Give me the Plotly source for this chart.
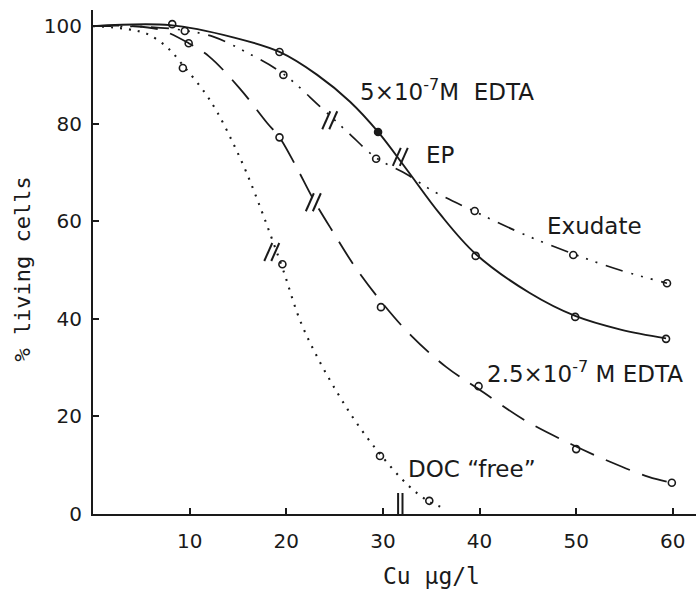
import plotly.graph_objects as go

# ---- fitted response curves (knots along each drawn curve) ----
edta5_curve_x = [0, 8, 14.5, 19.3, 23.2, 26.6, 29.5, 32.5, 35.9, 39.6, 45.2, 49.9, 54.6, 59.3]
edta5_curve_y = [100, 100.2, 97.7, 94.7, 90.0, 84.5, 78.3, 70.5, 61.5, 53.3, 45.3, 40.6, 37.8, 36.0]

exudate_curve_x = [0, 6, 9.5, 12.5, 16, 19.7, 23.5, 26.5, 29.3, 32.5, 35, 39.5, 44.5, 49.7, 54.5, 59.4]
exudate_curve_y = [100, 99.8, 99.1, 97.8, 94.5, 90.2, 83.5, 78, 73, 69.6, 66.4, 62, 57.4, 53.3, 50, 47.3]

edta25_curve_x = [0, 4, 7, 9.9, 12, 15.2, 18, 19.3, 21, 22.8, 24.9, 27, 29.8, 32.9, 36.5, 39.9, 44.7, 49.5, 53.5, 57.5, 59.9]
edta25_curve_y = [100, 100, 99.2, 96.5, 93.8, 87.2, 80.2, 77.2, 71.3, 64.5, 57.6, 51, 43.6, 36.6, 30.2, 25.6, 19.2, 14.3, 10.7, 7.6, 6.4]

doc_curve_x = [0, 3.5, 5.6, 7.7, 9.3, 11.6, 12.9, 14.5, 15.9, 17.3, 18.5, 19.7, 21.4, 23.2, 25.3, 27.3, 29.7, 32.6, 34.8, 36.4]
doc_curve_y = [100, 99.4, 98.4, 95.6, 92, 86.3, 82.2, 76, 69.9, 62.9, 56.5, 49.9, 39.8, 32.2, 24.8, 18.6, 12.3, 5.9, 2.5, 1.2]

# ---- measured points ----
edta5_x = [8.2, 19.3, 29.5, 39.6, 49.9, 59.3]
edta5_y = [100.4, 94.7, 78.3, 52.9, 40.4, 35.9]
edta5_filled = [False, False, True, False, False, False]

exudate_x = [9.5, 19.7, 29.3, 39.5, 49.7, 59.4]
exudate_y = [99.0, 90.0, 72.8, 62.1, 53.1, 47.3]

edta25_x = [9.9, 19.3, 29.8, 39.9, 50.0, 59.9]
edta25_y = [96.5, 77.2, 42.4, 26.2, 13.3, 6.4]

doc_x = [9.3, 19.6, 29.7, 34.8]
doc_y = [91.4, 51.2, 11.9, 2.7]

# ---- curve labels ----
label_text = ["5×10<sup>-7</sup>M  EDTA", "EP", "Exudate", "2.5×10<sup>-7</sup> M EDTA", "DOC “free”"]
label_x = [27.4, 34.3, 46.8, 40.6, 32.4]
label_y = [86.9, 73.6, 59.0, 29.1, 9.2]

# ---- 50 % marks drawn across the curves ----
hash_x = [24.5, 22.8, 18.5, 31.8]
hash_y = [80.7, 63.9, 53.7, 73.2]
# Cu value of the equivalence point, marked on the concentration axis
ep_axis_x = [31.8]

x_ticks = [10, 20, 30, 40, 50, 60]
y_ticks = [0, 20, 40, 60, 80, 100]

INK = "#1a1a1a"
FONT = "DejaVu Sans"
MONO = "DejaVu Sans Mono"

fig = go.Figure()

curve_specs = [
    (edta5_curve_x, edta5_curve_y, "solid", 1.9),
    (exudate_curve_x, exudate_curve_y, "18px,9px,2px,8px,2px,8px,2px,9px", 1.7),
    (edta25_curve_x, edta25_curve_y, "26px,13px", 1.8),
    (doc_curve_x, doc_curve_y, "2px,7px", 2.1),
]
for cx, cy, dash, w in curve_specs:
    fig.add_trace(go.Scatter(
        x=cx, y=cy, mode="lines",
        line=dict(color=INK, width=w, dash=dash, shape="spline", smoothing=1.0),
        hoverinfo="skip", showlegend=False,
    ))


def add_points(px, py, filled=None):
    if filled is None:
        filled = [False] * len(px)
    fig.add_trace(go.Scatter(
        x=px, y=py, mode="markers",
        marker=dict(
            symbol=["circle" if f else "circle-open" for f in filled],
            size=7, color=INK, line=dict(color=INK, width=1.6),
        ),
        showlegend=False,
    ))


add_points(edta5_x, edta5_y, edta5_filled)
add_points(exudate_x, exudate_y)
add_points(edta25_x, edta25_y)
add_points(doc_x, doc_y)

for t, x, y in zip(label_text, label_x, label_y):
    fig.add_annotation(x=x, y=y, text=t, showarrow=False, xanchor="left", yanchor="middle",
                       font=dict(family=FONT, size=23, color=INK))

# "//" marks: two short slanted strokes centred on each anchor point (pixel sized)
stroke = dict(color=INK, width=2)
for x, y in zip(hash_x, hash_y):
    for off in (-3.5, 3.5):
        fig.add_shape(type="line", xref="x", yref="y",
                      xsizemode="pixel", ysizemode="pixel", xanchor=x, yanchor=y,
                      x0=off - 4, x1=off + 4, y0=-9, y1=9, line=stroke)

# "||" on the concentration axis
for x in ep_axis_x:
    for off in (-2.2, 2.2):
        fig.add_shape(type="line", xref="x", yref="y",
                      xsizemode="pixel", ysizemode="pixel", xanchor=x, yanchor=0,
                      x0=off, x1=off, y0=0, y1=21, line=stroke)

# axis titles
fig.add_annotation(x=35.0, y=-0.124, xref="x", yref="paper", text="Cu µg/l", showarrow=False,
                   xanchor="center", yanchor="middle", font=dict(family=MONO, size=23, color=INK))
fig.add_annotation(x=-0.116, y=0.485, xref="paper", yref="paper", text="% living cells", showarrow=False,
                   textangle=-90, xanchor="center", yanchor="middle", font=dict(family=MONO, size=22, color=INK))

axis_common = dict(
    showline=True, linecolor=INK, linewidth=1.9, showgrid=False, zeroline=False,
    ticks="inside", ticklen=6, tickwidth=1.5, tickcolor=INK,
    tickfont=dict(family=FONT, size=20, color=INK),
)

fig.update_layout(
    width=696, height=590,
    margin=dict(l=93, r=0, t=10, b=76),
    paper_bgcolor="white", plot_bgcolor="white",
    xaxis=dict(range=[0, 62.4], tickvals=x_ticks, ticklabelstandoff=8, **axis_common),
    yaxis=dict(range=[0, 103.3], tickvals=y_ticks, ticklabelstandoff=5, **axis_common),
    showlegend=False,
)

fig.write_html("out.html")
